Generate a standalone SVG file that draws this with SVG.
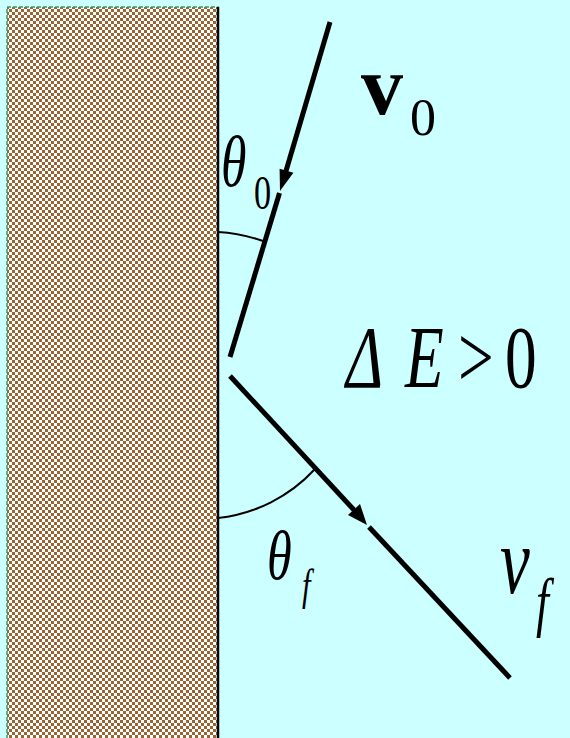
<svg xmlns="http://www.w3.org/2000/svg" width="570" height="738" viewBox="0 0 570 738">
<defs>
<pattern id="chk" x="0" y="0" width="6" height="6" patternUnits="userSpaceOnUse">
<rect width="6" height="6" fill="#ffffff"/>
<rect width="3" height="3" fill="#996633"/>
<rect x="3" y="3" width="3" height="3" fill="#996633"/>
</pattern>
<style>
.ray{stroke:#000;stroke-width:5;fill:none;stroke-linecap:butt}
.arc{stroke:#000;stroke-width:2;fill:none}
.t{font-family:"Liberation Serif","Times New Roman",serif;fill:#000}
.i{font-style:italic}
</style>
</defs>
<rect width="570" height="738" fill="#ccffff"/>
<g id="wall">
<rect x="7" y="7" width="211" height="740" fill="url(#chk)" stroke="#339966" stroke-width="1.5" stroke-dasharray="4,2"/>
<line x1="218" y1="7" x2="218" y2="738" stroke="#000" stroke-width="2.5"/>
</g>
<g id="connectors">
<line class="ray" x1="330" y1="22" x2="286" y2="171"/>
<polygon points="280,191 293.4,172.8 279.6,168.8" fill="#000"/>
<line class="ray" x1="279.5" y1="193" x2="230" y2="357"/>
<line class="ray" x1="230" y1="376" x2="354" y2="510"/>
<polygon points="367,525 360,504 348,515" fill="#000"/>
<line class="ray" x1="369" y1="527" x2="510" y2="678"/>
<path class="arc" d="M218,232 A165,165 0 0 1 263,241"/>
<path class="arc" d="M218,518 A155,155 0 0 0 315,469"/>
</g>
<g id="labels">
<text class="t" x="361" y="114" font-size="84" font-weight="bold">v</text>
<text class="t" x="410" y="135" font-size="52">0</text>
<text class="t i" transform="translate(221,186) scale(0.72,1)" font-size="72">θ</text>
<text class="t" transform="translate(254,209) scale(0.7,1)" font-size="49">0</text>
<text class="t i" transform="translate(267,579) scale(0.72,1)" font-size="70">θ</text>
<text class="t i" transform="translate(302,600) scale(0.7,1)" font-size="44">f</text>
<text class="t i" transform="translate(500,593) scale(0.7,1)" font-size="96">v</text>
<text class="t i" transform="translate(536,624) scale(0.7,1)" font-size="66">f</text>
<text class="t i" transform="translate(346,387) scale(0.72,1)" font-size="88">Δ</text>
<text class="t i" transform="translate(405,387) scale(0.72,1)" font-size="88">E</text>
<text class="t" transform="translate(458,387) scale(0.72,1)" font-size="88">&gt;</text>
<text class="t" transform="translate(505,387) scale(0.72,1)" font-size="88">0</text>
</g>
</svg>
